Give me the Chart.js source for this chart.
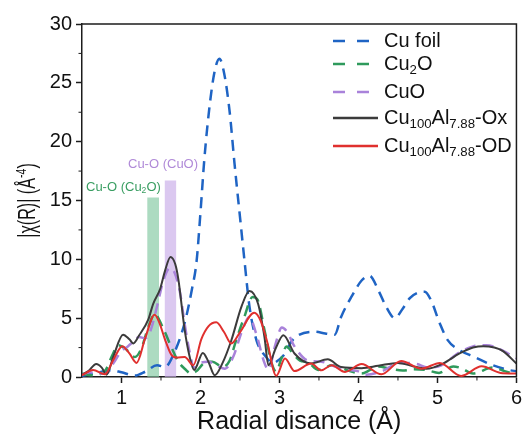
<!DOCTYPE html>
<html>
<head>
<meta charset="utf-8">
<script src="https://cdn.jsdelivr.net/npm/chart.js@4.4.0/dist/chart.umd.min.js"></script>
<style>
  html, body { margin: 0; padding: 0; background: #fff; }
  canvas { display: block; }
</style>
</head>
<body>
<canvas id="chart" width="525" height="439"></canvas>
<script>
const FONT = "'Liberation Sans', Arial, sans-serif";
const AXIS = '#1c1c1c';

// Cu foil
const foilX = [0.5, 0.62, 0.75, 0.87, 1.0, 1.17, 1.3, 1.45, 1.55, 1.67, 1.8, 1.89, 1.95, 2.0, 2.05, 2.12, 2.18, 2.24, 2.3, 2.37, 2.43, 2.5, 2.56, 2.62, 2.71, 2.83, 2.92, 3.0, 3.07, 3.15, 3.24, 3.45, 3.58, 3.7, 3.78, 3.91, 4.04, 4.14, 4.26, 4.35, 4.46, 4.56, 4.65, 4.75, 4.84, 4.92, 5.03, 5.13, 5.28, 5.47, 5.7, 5.92, 6.0];
const foilY = [0.1, 0.25, 0.45, 0.57, 0.4, 0.12, 0.45, 1.0, 0.85, 2.1, 4.6, 7.4, 9.8, 14.0, 18.6, 23.3, 26.0, 27.05, 25.8, 22.5, 18.2, 13.6, 9.7, 6.0, 3.1, 1.7, 1.2, 1.5, 2.0, 3.0, 3.55, 3.85, 3.7, 3.6, 5.1, 6.8, 8.2, 8.6, 7.25, 5.97, 5.0, 5.8, 6.7, 7.15, 7.25, 6.5, 4.55, 3.13, 2.28, 1.7, 1.0, 0.57, 0.5];

// Cu2O
const cu2oX = [0.5, 0.6, 0.7, 0.8, 0.88, 0.96, 1.05, 1.17, 1.25, 1.34, 1.42, 1.53, 1.63, 1.72, 1.8, 1.88, 1.95, 2.05, 2.15, 2.28, 2.37, 2.45, 2.55, 2.66, 2.72, 2.81, 2.9, 2.96, 3.02, 3.09, 3.17, 3.26, 3.36, 3.49, 3.58, 3.66, 3.78, 3.87, 4.04, 4.15, 4.25, 4.4, 4.56, 4.7, 4.85, 5.02, 5.2, 5.3, 5.45, 5.7, 5.85, 6.0];
const cu2oY = [0.3, 0.15, 0.2, 0.6, 1.8, 2.7, 2.4, 1.7, 2.4, 4.26, 5.35, 4.1, 2.56, 1.3, 0.7, 0.3, 0.5, 1.2, 1.3, 0.85, 1.4, 3.1, 5.0, 6.8, 6.6, 4.0, 1.2, 0.45, 1.5, 2.6, 2.0, 1.4, 1.25, 0.6, 0.8, 1.0, 0.8, 0.55, 0.3, 0.6, 0.9, 0.7, 0.55, 0.65, 0.6, 0.35, 0.9, 0.75, 0.3, 0.8, 0.5, 0.2];

// CuO
const cuoX = [0.5, 0.6, 0.7, 0.81, 0.9, 1.0, 1.08, 1.15, 1.22, 1.3, 1.37, 1.45, 1.53, 1.61, 1.67, 1.74, 1.8, 1.86, 1.92, 2.0, 2.1, 2.2, 2.31, 2.42, 2.52, 2.62, 2.7, 2.81, 2.86, 2.95, 3.03, 3.1, 3.19, 3.36, 3.53, 3.66, 3.78, 3.99, 4.1, 4.3, 4.52, 4.65, 4.74, 4.88, 5.05, 5.28, 5.45, 5.62, 5.78, 5.92, 6.0];
const cuoY = [0.2, 0.4, 0.3, 0.3, 1.2, 2.2, 2.6, 3.0, 3.4, 3.3, 4.0, 6.0, 8.2, 9.25, 8.9, 7.2, 4.5, 2.2, 0.8, 1.2, 1.3, 1.0, 0.7, 1.8, 3.8, 5.1, 3.8, 1.2, 0.6, 2.8, 4.2, 3.8, 2.6, 1.4, 1.3, 1.0, 0.7, 0.5, 0.2, 0.5, 1.2, 1.2, 1.1, 0.8, 1.0, 2.1, 2.6, 2.7, 2.4, 1.9, 1.6];

// Cu100Al7.88-Ox
const oxX = [0.5, 0.58, 0.68, 0.75, 0.81, 0.9, 1.02, 1.1, 1.15, 1.22, 1.34, 1.4, 1.49, 1.55, 1.62, 1.68, 1.72, 1.8, 1.86, 1.92, 2.03, 2.1, 2.18, 2.28, 2.39, 2.52, 2.62, 2.73, 2.81, 2.86, 2.95, 3.05, 3.19, 3.4, 3.61, 3.78, 4.04, 4.25, 4.5, 4.7, 4.86, 5.07, 5.28, 5.45, 5.58, 5.72, 5.83, 6.0];
const oxY = [0.2, 0.5, 1.1, 0.8, 0.2, 1.8, 3.6, 3.2, 2.85, 3.5, 4.9, 6.2, 7.5, 9.0, 10.2, 9.6, 8.3, 4.0, 1.8, 0.6, 2.05, 1.3, 0.15, 1.2, 3.1, 6.0, 7.3, 6.2, 3.4, 1.0, 2.4, 3.55, 2.0, 1.15, 1.5, 0.85, 0.75, 0.95, 1.2, 0.9, 0.7, 1.14, 2.0, 2.5, 2.62, 2.5, 2.2, 1.14];

// Cu100Al7.88-OD
const odX = [0.5, 0.64, 0.79, 0.9, 1.01, 1.1, 1.19, 1.3, 1.42, 1.48, 1.55, 1.63, 1.7, 1.8, 1.91, 2.01, 2.1, 2.2, 2.3, 2.39, 2.5, 2.68, 2.76, 2.84, 2.96, 3.07, 3.19, 3.4, 3.53, 3.66, 3.83, 4.04, 4.29, 4.54, 4.8, 5.03, 5.3, 5.56, 5.8, 6.0];
const odY = [0.15, 0.6, 0.23, 1.5, 2.62, 2.0, 1.2, 3.3, 5.3, 4.6, 3.2, 1.9, 1.65, 1.7, 1.0, 3.2, 4.3, 4.65, 3.8, 2.85, 3.8, 5.45, 4.8, 3.1, 0.1, 1.57, 0.5, 1.14, 0.57, 1.0, 0.43, 1.1, 0.23, 1.37, 0.71, 1.2, 0.09, 0.91, 0.35, 0.3];

// Cu-O reference bands: centre, width, height
const bandCentre = [1.40, 1.62];
const bandWidth = [0.15, 0.15];
const bandHeight = [15.26, 16.7];
const bandColor = ['rgba(128,200,160,0.65)', 'rgba(200,170,232,0.65)'];
const bandLabel = [
  [['Cu-O (Cu', 0], ['2', 1], ['O)', 0]],
  [['Cu-O (CuO)', 0]],
];
const bandLabelColor = ['#3a9e62', '#b08ad8'];

const xTicks = [1, 2, 3, 4, 5, 6];
const yTicks = [0, 5, 10, 15, 20, 25, 30];

const series = [
  { name: [['Cu foil', 0]], xs: foilX, ys: foilY, color: '#1f64c4', dash: [11, 7] },
  { name: [['Cu', 0], ['2', 1], ['O', 0]], xs: cu2oX, ys: cu2oY, color: '#2f9a5c', dash: [11, 7] },
  { name: [['CuO', 0]], xs: cuoX, ys: cuoY, color: '#a982da', dash: [11, 7] },
  { name: [['Cu', 0], ['100', 1], ['Al', 0], ['7.88', 1], ['-Ox', 0]], xs: oxX, ys: oxY, color: '#3b3b3b', dash: [] },
  { name: [['Cu', 0], ['100', 1], ['Al', 0], ['7.88', 1], ['-OD', 0]], xs: odX, ys: odY, color: '#e0302e', dash: [] },
];

function toPoints(xs, ys) {
  return xs.map((x, i) => ({ x, y: ys[i] }));
}

function bandPoints(i) {
  const l = bandCentre[i] - bandWidth[i] / 2;
  const r = bandCentre[i] + bandWidth[i] / 2;
  return [{ x: l, y: 0 }, { x: l, y: bandHeight[i] }, { x: r, y: bandHeight[i] }, { x: r, y: 0 }];
}

// text with sub (1) / super (-1) parts
function richWidth(ctx, parts, size) {
  let w = 0;
  for (const [t, s] of parts) {
    ctx.font = `${s ? size * 0.66 : size}px ${FONT}`;
    w += ctx.measureText(t).width;
  }
  return w;
}

function drawRich(ctx, parts, x, y, size, color) {
  ctx.fillStyle = color;
  ctx.textBaseline = 'middle';
  ctx.textAlign = 'left';
  for (const [t, s] of parts) {
    ctx.font = `${s ? size * 0.66 : size}px ${FONT}`;
    ctx.fillText(t, x, y + s * size * 0.3);
    x += ctx.measureText(t).width;
  }
}

const decor = {
  id: 'decor',
  afterDraw(chart) {
    const { ctx, chartArea: a, scales: { x, y } } = chart;
    ctx.save();
    ctx.strokeStyle = AXIS;
    ctx.lineWidth = 1.5;
    ctx.beginPath();
    ctx.moveTo(a.left, a.top);
    ctx.lineTo(a.right, a.top);
    ctx.lineTo(a.right, a.bottom);
    ctx.stroke();

    // minor ticks
    ctx.lineWidth = 1;
    ctx.beginPath();
    for (const v of xTicks) {
      const px = x.getPixelForValue(v - 0.5);
      if (v - 0.5 > 0.5) { ctx.moveTo(px, a.bottom); ctx.lineTo(px, a.bottom + 3.5); }
    }
    for (const v of yTicks.slice(1)) {
      const py = y.getPixelForValue(v - 2.5);
      ctx.moveTo(a.left, py); ctx.lineTo(a.left - 3.5, py);
    }
    ctx.stroke();

    // axis titles
    ctx.fillStyle = '#111';
    ctx.font = `25px ${FONT}`;
    ctx.textAlign = 'center';
    ctx.textBaseline = 'middle';
    ctx.fillText('Radial disance (Å)', (a.left + a.right) / 2, 422);

    // the source figure is squeezed vertically, so the rotated title is too
    const yt = [['|χ(R)| (Å', 0], ['-4', -1], [')', 0]];
    ctx.translate(29, (a.top + a.bottom) / 2);
    ctx.rotate(-Math.PI / 2);
    ctx.scale(0.7, 1);
    drawRich(ctx, yt, -richWidth(ctx, yt, 23) / 2, 0, 23, '#111');
    ctx.setTransform(1, 0, 0, 1, 0, 0);

    // band labels
    drawRich(ctx, bandLabel[0], 86, 187, 13, bandLabelColor[0]);
    drawRich(ctx, bandLabel[1], 128, 164, 13, bandLabelColor[1]);

    // legend
    const rows = [41, 64, 92, 118, 146];
    series.forEach((s, i) => {
      ctx.strokeStyle = s.color;
      ctx.lineWidth = 2.5;
      ctx.setLineDash(s.dash.length ? [12, 12] : []);
      ctx.beginPath();
      ctx.moveTo(333, rows[i]);
      ctx.lineTo(378, rows[i]);
      ctx.stroke();
      ctx.setLineDash([]);
      drawRich(ctx, s.name, 384, rows[i], 20, '#111');
    });
    ctx.restore();
  },
};

const datasets = series.map((s, i) => ({
  data: toPoints(s.xs, s.ys),
  borderColor: s.color,
  borderWidth: s.dash.length ? 2.5 : 2,
  borderDash: s.dash,
  pointRadius: 0,
  fill: false,
  cubicInterpolationMode: 'monotone',
  order: 5 - i,
}));
bandCentre.forEach((c, i) => {
  datasets.push({
    data: bandPoints(i),
    borderWidth: 0,
    borderColor: 'transparent',
    backgroundColor: bandColor[i],
    pointRadius: 0,
    fill: 'origin',
    tension: 0,
    order: 10,
  });
});

const tickFont = { family: FONT, size: 20 };

new Chart(document.getElementById('chart'), {
  type: 'line',
  data: { datasets },
  options: {
    responsive: false,
    animation: false,
    layout: { padding: { top: 24, right: 7, left: 0, bottom: 0 } },
    plugins: { legend: { display: false }, tooltip: { enabled: false } },
    scales: {
      x: {
        type: 'linear',
        min: 0.5,
        max: 6,
        afterFit: (s) => { s.height = 62; },
        ticks: {
          stepSize: 0.5,
          autoSkip: false,
          maxRotation: 0,
          padding: 3,
          color: '#111',
          font: tickFont,
          callback: (v) => (xTicks.includes(v) ? v : ''),
        },
        grid: {
          drawOnChartArea: false,
          tickLength: 6,
          tickWidth: 1.5,
          tickColor: (c) => (c.tick && xTicks.includes(c.tick.value) ? AXIS : 'transparent'),
        },
        border: { color: AXIS, width: 1.5 },
      },
      y: {
        min: 0,
        max: 30,
        afterFit: (s) => { s.width = 82; },
        ticks: {
          stepSize: 2.5,
          autoSkip: false,
          padding: 4,
          color: '#111',
          font: tickFont,
          callback: (v) => (yTicks.includes(v) ? v : ''),
        },
        grid: {
          drawOnChartArea: false,
          tickLength: 6,
          tickWidth: 1.5,
          tickColor: (c) => (c.tick && yTicks.includes(c.tick.value) ? AXIS : 'transparent'),
        },
        border: { color: AXIS, width: 1.5 },
      },
    },
  },
  plugins: [decor],
});
</script>
</body>
</html>
